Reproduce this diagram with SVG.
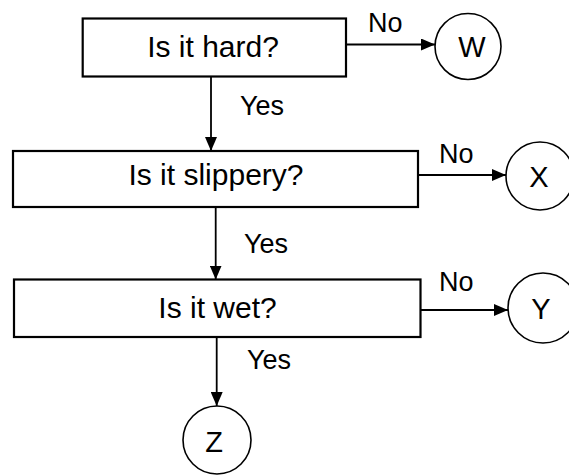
<svg xmlns="http://www.w3.org/2000/svg" width="569" height="475" viewBox="0 0 569 475">
<style>
.box{fill:#fff;stroke:#000;stroke-width:2.2}
.circ{fill:#fff;stroke:#000;stroke-width:1.6}
.edge{fill:none;stroke:#000;stroke-width:1.8}
.t{font-family:"Liberation Sans",Arial,sans-serif;font-size:30px;fill:#000}
.lbl{font-family:"Liberation Sans",Arial,sans-serif;font-size:27px;fill:#000}
.ltr{font-family:"Liberation Sans",Arial,sans-serif;font-size:29px;fill:#000;text-anchor:middle}
.mid{text-anchor:middle}
</style>
<defs>
<marker id="arr" markerUnits="userSpaceOnUse" markerWidth="14" markerHeight="12" refX="14" refY="6" orient="auto">
<path d="M0,0 L14,6 L0,12 z" fill="#000"/>
</marker>
</defs>
<rect width="569" height="475" fill="#fff"/>
<g id="connectors">
<line class="edge" x1="346" y1="44.5" x2="435" y2="44.5" marker-end="url(#arr)"/>
<line class="edge" x1="211" y1="76.5" x2="211" y2="151" marker-end="url(#arr)"/>
<line class="edge" x1="418" y1="175" x2="506" y2="175" marker-end="url(#arr)"/>
<line class="edge" x1="215.7" y1="207" x2="215.7" y2="279.5" marker-end="url(#arr)"/>
<line class="edge" x1="420.5" y1="310" x2="508" y2="310" marker-end="url(#arr)"/>
<line class="edge" x1="216.7" y1="337" x2="216.7" y2="406" marker-end="url(#arr)"/>
<text class="lbl" x="368" y="31.5">No</text>
<text class="lbl" x="240" y="115">Yes</text>
<text class="lbl" x="439" y="163">No</text>
<text class="lbl" x="244" y="253">Yes</text>
<text class="lbl" x="439" y="290.5">No</text>
<text class="lbl" x="247" y="369">Yes</text>
</g>
<g id="q1">
<rect class="box" x="82.7" y="18.5" width="263.3" height="58"/>
<text class="t mid" x="213" y="56.7">Is it hard?</text>
</g>
<g id="q2">
<rect class="box" x="13" y="151" width="405" height="56"/>
<text class="t mid" x="216" y="185">Is it slippery?</text>
</g>
<g id="q3">
<rect class="box" x="14" y="279.5" width="406.5" height="57.5"/>
<text class="t mid" x="217.5" y="317.7">Is it wet?</text>
</g>
<g id="W">
<circle class="circ" cx="468" cy="46.5" r="33"/>
<text class="ltr" x="472" y="57">W</text>
</g>
<g id="X">
<circle class="circ" cx="540" cy="176" r="34"/>
<text class="ltr" x="539" y="187">X</text>
</g>
<g id="Y">
<circle class="circ" cx="543" cy="308" r="35"/>
<text class="ltr" x="541" y="318.5">Y</text>
</g>
<g id="Z">
<circle class="circ" cx="217" cy="440" r="34"/>
<text class="ltr" x="214" y="452">Z</text>
</g>
</svg>
